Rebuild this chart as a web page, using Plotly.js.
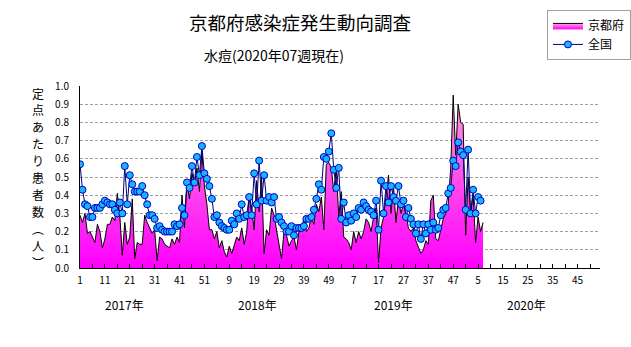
<!DOCTYPE html>
<html><head><meta charset="utf-8">
<script src="https://cdn.plot.ly/plotly-3.0.1.min.js"></script>
<style>html,body{margin:0;padding:0;background:#fff}#chart{width:631px;height:347px}</style>
</head><body><div id="chart"></div>
<script>
// Tick labels (week numbers every 10 weeks, 2017-2020)
const tickLabels = [1,11,21,31,41,51,9,19,29,39,49,7,17,27,37,47,5,15,25,35,45];
const yearLabels = ['2017年','2018年','2019年','2020年'];
const yearWeeks = [52,52,52,53];
const yTitleChars = ['定','点','あ','た','り','患','者','数','︵','人','︶'];

// 京都府 (per sentinel), weekly
const kyoto2017 = [0.29,0.25,0.30,0.19,0.20,0.17,0.14,0.24,0.20,0.11,0.16,0.24,0.24,0.28,0.26,0.41,0.29,0.07,0.25,0.13,0.17,0.38,0.05,0.14,0.13,0.13,0.29,0.25,0.22,0.19,0.21,0.04,0.17,0.16,0.13,0.12,0.11,0.16,0.13,0.17,0.14,0.40,0.22,0.47,0.38,0.52,0.46,0.55,0.42,0.64,0.45,0.35];
const kyoto2018 = [0.21,0.21,0.16,0.20,0.11,0.15,0.09,0.06,0.12,0.08,0.13,0.17,0.15,0.22,0.13,0.20,0.40,0.33,0.21,0.48,0.31,0.50,0.08,0.21,0.18,0.33,0.29,0.21,0.14,0.05,0.20,0.18,0.12,0.15,0.17,0.10,0.20,0.20,0.28,0.20,0.22,0.28,0.24,0.35,0.31,0.39,0.21,0.57,0.58,0.55,0.42,0.55];
const kyoto2019 = [0.28,0.42,0.17,0.16,0.14,0.10,0.20,0.14,0.20,0.16,0.20,0.27,0.25,0.20,0.28,0.33,0.03,0.22,0.28,0.40,0.51,0.30,0.45,0.25,0.38,0.30,0.35,0.30,0.22,0.20,0.22,0.15,0.12,0.08,0.10,0.15,0.13,0.37,0.40,0.16,0.15,0.22,0.27,0.30,0.35,0.55,0.95,0.62,0.90,0.80,0.79,0.18];
const kyoto2020 = [0.50,0.30,0.40,0.14,0.28,0.20,0.25];

// 全国 (per sentinel), weekly
const nation2017 = [0.57,0.43,0.35,0.34,0.28,0.28,0.33,0.33,0.33,0.35,0.37,0.36,0.35,0.35,0.32,0.30,0.36,0.30,0.56,0.35,0.51,0.46,0.42,0.42,0.42,0.45,0.40,0.35,0.29,0.29,0.27,0.22,0.23,0.21,0.20,0.20,0.20,0.20,0.24,0.23,0.24,0.33,0.29,0.47,0.44,0.56,0.47,0.61,0.51,0.67,0.52,0.49];
const nation2018 = [0.45,0.38,0.28,0.29,0.25,0.23,0.22,0.21,0.21,0.26,0.24,0.30,0.27,0.35,0.28,0.29,0.39,0.29,0.52,0.35,0.59,0.37,0.51,0.37,0.39,0.36,0.39,0.27,0.28,0.25,0.23,0.20,0.20,0.23,0.18,0.22,0.22,0.22,0.23,0.27,0.27,0.28,0.32,0.38,0.46,0.43,0.61,0.60,0.64,0.74,0.54,0.44];
const nation2019 = [0.55,0.27,0.36,0.25,0.29,0.26,0.30,0.28,0.33,0.32,0.36,0.34,0.32,0.31,0.29,0.37,0.21,0.48,0.30,0.45,0.36,0.45,0.39,0.37,0.45,0.35,0.37,0.28,0.33,0.27,0.24,0.19,0.24,0.16,0.24,0.19,0.24,0.21,0.25,0.21,0.22,0.29,0.32,0.33,0.41,0.44,0.59,0.56,0.69,0.64,0.62,0.32];
const nation2020 = [0.65,0.30,0.43,0.30,0.39,0.37];

const kyoto = [].concat(kyoto2017, kyoto2018, kyoto2019, kyoto2020);
const nation = [].concat(nation2017, nation2018, nation2019, nation2020);
const idx = n => Array.from({length:n}, (_, i) => i);

const totalWeeks = yearWeeks.reduce((a,b)=>a+b,0);
const tickVals = tickLabels.map((_, i) => i*10);
// year label offsets (weeks into each year, layout only)
const yearLabelOffset = [18, 19.5, 22, 23.5];
let start = 0; const yearCenters = [];
yearWeeks.forEach((w, i) => { yearCenters.push(start + yearLabelOffset[i]); start += w; });

const FONT = '"Noto Sans CJK JP", "Noto Sans", sans-serif';
const PLOT_H = 182;

const traces = [
  {
    x: idx(kyoto.length), y: kyoto, name: '京都府', type: 'scatter', mode: 'lines',
    line: {color: '#000000', width: 1},
    fill: 'tozeroy',
    fillgradient: {type: 'vertical', start: 0, stop: 1,
      colorscale: [[0, '#ff00ff'], [0.5, '#ff50e8'], [1, '#ffaadd']]},
    hoverinfo: 'skip'
  },
  {
    x: idx(nation.length), y: nation, name: '全国', type: 'scatter', mode: 'lines+markers',
    line: {color: '#000080', width: 1},
    marker: {symbol: 'circle', size: 7, color: '#19b4ff', line: {color: '#0000c0', width: 1}},
    hoverinfo: 'skip'
  }
];

const annotations = [
  {text: '京都府感染症発生動向調査', xref: 'paper', yref: 'paper', x: 0.423, y: 1.352,
   showarrow: false, font: {family: FONT, size: 18.5, color: '#000'}, xanchor: 'center', yanchor: 'middle'},
  {text: '水痘(2020年07週現在)', xref: 'paper', yref: 'paper', x: 0.2346, y: 1.170,
   showarrow: false, font: {family: FONT, size: 14, color: '#000'}, xanchor: 'left', yanchor: 'middle'}
];
// vertical y-axis title, one character per line (pixel rows 93..262)
yTitleChars.forEach((c, i) => annotations.push({
  text: c, xref: 'paper', yref: 'paper', x: -0.081,
  y: (268 - (93 + i * 16.9)) / PLOT_H, showarrow: false,
  font: {family: FONT, size: 12, color: '#000'}, xanchor: 'center', yanchor: 'middle'
}));
yearLabels.forEach((t, i) => annotations.push({
  text: t, xref: 'x', yref: 'paper', x: yearCenters[i], y: -0.203, showarrow: false,
  font: {family: FONT, size: 12, color: '#000'}, xanchor: 'center', yanchor: 'middle'
}));

const layout = {
  width: 631, height: 347,
  margin: {l: 80, r: 31, t: 86, b: 79, autoexpand: false},
  paper_bgcolor: '#fff', plot_bgcolor: '#fff',
  font: {family: FONT, size: 10, color: '#000'},
  showlegend: true,
  legend: {x: 0.898, y: 1.418, xanchor: 'left', yanchor: 'top', bgcolor: '#fff',
    bordercolor: '#a0a0a0', borderwidth: 1, font: {family: FONT, size: 12, color: '#000'},
    itemwidth: 30, tracegroupgap: 0},
  xaxis: {
    range: [0, totalWeeks], tickmode: 'array', tickvals: tickVals, ticktext: tickLabels.map(String),
    showline: true, linecolor: '#000', linewidth: 1, showgrid: false, zeroline: false,
    ticks: 'inside', ticklen: 4, tickcolor: '#000', tickfont: {family: FONT, size: 10},
    ticklabelstandoff: 3,
    minor: {dtick: 5, tick0: 0, ticks: 'inside', ticklen: 4, tickcolor: '#000', showgrid: false},
    fixedrange: true
  },
  yaxis: {
    range: [0, 1.0], dtick: 0.1, tickformat: '.1f', showline: true, linecolor: '#000', linewidth: 1,
    showgrid: true, gridcolor: '#a0a0a0', griddash: '3px,2px', zeroline: false,
    ticks: '', ticklabelstandoff: 8, tickfont: {family: FONT, size: 10}, fixedrange: true
  },
  annotations: annotations
};

Plotly.newPlot('chart', traces, layout, {staticPlot: true, displayModeBar: false});
</script></body></html>
